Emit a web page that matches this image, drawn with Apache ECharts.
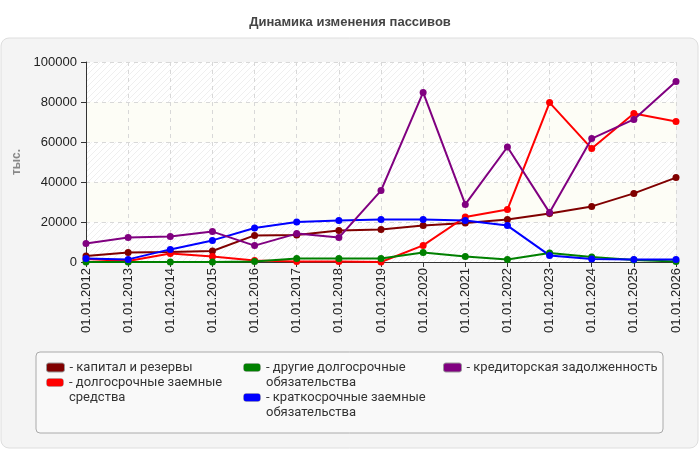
<!DOCTYPE html>
<html>
<head>
<meta charset="utf-8">
<script src="https://cdn.jsdelivr.net/npm/echarts@6/dist/echarts.min.js"></script>
<style>
  html, body { margin: 0; padding: 0; background: #fff; }
  #chart { width: 700px; height: 450px; }
</style>
</head>
<body>
<div id="chart"></div>
<script>
// данные
const years = ['01.01.2012', '01.01.2013', '01.01.2014', '01.01.2015', '01.01.2016', '01.01.2017', '01.01.2018',
  '01.01.2019', '01.01.2020', '01.01.2021', '01.01.2022', '01.01.2023', '01.01.2024', '01.01.2025', '01.01.2026'];
const capital = [3000, 4700, 5000, 5500, 13300, 13500, 15700, 16200, 18300, 19500, 21300, 24300, 27800, 34300, 42200];
const longLoans = [1500, 500, 4200, 2800, 700, 200, 300, 0, 8300, 22500, 26200, 79700, 56700, 74300, 70300];
const otherLong = [0, 0, 0, 0, 200, 1700, 1700, 1700, 4800, 2700, 1300, 4500, 2500, 1000, 200];
const shortLoans = [1700, 1300, 6300, 10800, 17000, 20000, 20800, 21300, 21300, 20700, 18200, 3300, 1500, 1200, 1200];
const payables = [9200, 12300, 12700, 15200, 8200, 14200, 12200, 35700, 84800, 28800, 57500, 24700, 61700, 71300, 90200];

const names = ['капитал и резервы', 'долгосрочные заемные средства', 'другие долгосрочные обязательства',
  'краткосрочные заемные обязательства', 'кредиторская задолженность'];
const colors = ['#800000', '#ff0000', '#008000', '#0000ff', '#800080'];
const values = [capital, longLoans, otherLong, shortLoans, payables];

// штриховка фона
function hatch(bg) {
  const c = document.createElement('canvas');
  c.width = 6; c.height = 6;
  const ctx = c.getContext('2d');
  ctx.fillStyle = bg;
  ctx.fillRect(0, 0, 6, 6);
  ctx.strokeStyle = '#efefef';
  ctx.lineWidth = 1;
  ctx.beginPath();
  ctx.moveTo(0, 6); ctx.lineTo(6, 0);
  ctx.moveTo(-1, 1); ctx.lineTo(1, -1);
  ctx.moveTo(5, 7); ctx.lineTo(7, 5);
  ctx.stroke();
  return { image: c, repeat: 'repeat' };
}

// иконка легенды для двухстрочного текста
function tallIcon(color) {
  const c = document.createElement('canvas');
  c.width = 36; c.height = 60;
  const ctx = c.getContext('2d');
  ctx.fillStyle = color;
  ctx.strokeStyle = '#999';
  ctx.lineWidth = 1;
  ctx.beginPath();
  ctx.roundRect(1, 7, 34, 16, 5);
  ctx.fill();
  ctx.stroke();
  return 'image://' + c.toDataURL();
}

const chart = echarts.init(document.getElementById('chart'));

const legendPos = [
  { left: 46, top: 360, wrap: false },
  { left: 46, top: 375, wrap: true, text: '- долгосрочные заемные\nсредства' },
  { left: 243, top: 360, wrap: true, text: '- другие долгосрочные\nобязательства' },
  { left: 243, top: 390, wrap: true, text: '- краткосрочные заемные\nобязательства' },
  { left: 443, top: 360, wrap: false }
];

const legends = names.map((n, i) => {
  const p = legendPos[i];
  return {
    data: [{ name: n, icon: p.wrap ? tallIcon(colors[i]) : 'roundRect' }],
    left: p.left,
    top: p.top,
    itemWidth: 18,
    itemHeight: p.wrap ? 30 : 9,
    itemGap: 4,
    padding: 0,
    selectedMode: false,
    formatter: () => p.wrap ? p.text : '- ' + n,
    textStyle: { fontSize: 13, color: '#333', lineHeight: 15, fontFamily: 'Roboto, sans-serif' },
    itemStyle: { borderColor: '#999', borderWidth: 1 }
  };
});

const option = {
  backgroundColor: '#fff',
  animation: false,
  textStyle: { fontFamily: 'Liberation Sans, Arial, sans-serif' },
  title: {
    text: 'Динамика изменения пассивов',
    left: 'center',
    top: 11,
    textStyle: { fontSize: 13, fontWeight: 'bold', color: '#444' }
  },
  graphic: [
    { type: 'rect', z: -10, shape: { x: 1, y: 38, width: 697, height: 410, r: 8 },
      style: { fill: '#f4f4f4', stroke: '#dedede', lineWidth: 1 } },
    { type: 'rect', z: -9, shape: { x: 36, y: 352, width: 627, height: 81, r: 4 },
      style: { fill: '#f9f9f9', stroke: '#aaa', lineWidth: 1 } }
  ],
  legend: legends,
  grid: { left: 86, right: 24, top: 62, bottom: 188 },
  xAxis: {
    type: 'category',
    data: years,
    boundaryGap: false,
    axisLine: { lineStyle: { color: '#333' } },
    axisTick: { show: true, lineStyle: { color: '#333' } },
    axisLabel: { rotate: 90, color: '#222', fontSize: 13, margin: 6 },
    splitLine: { show: true, lineStyle: { color: '#d8d8d8', type: [4, 4] } }
  },
  yAxis: {
    type: 'value',
    min: 0,
    max: 100000,
    interval: 20000,
    name: 'тыс.',
    nameLocation: 'middle',
    nameGap: 55,
    nameTextStyle: { color: '#888', fontWeight: 'bold', fontSize: 12 },
    axisLine: { show: true, lineStyle: { color: '#333' } },
    axisTick: { show: true, lineStyle: { color: '#333' } },
    axisLabel: { color: '#222', fontSize: 13, margin: 9, formatter: v => String(v) },
    splitLine: { lineStyle: { color: '#d8d8d8', type: [4, 4] } },
    splitArea: { show: true, areaStyle: { color: [hatch('#ffffff'), '#fdfdf6'] } }
  },
  series: names.map((n, i) => ({
    name: n,
    type: 'line',
    data: values[i],
    symbol: 'circle',
    symbolSize: 7,
    lineStyle: { width: 2, color: colors[i] },
    itemStyle: { color: colors[i] }
  }))
};

chart.setOption(option);
</script>
</body>
</html>
